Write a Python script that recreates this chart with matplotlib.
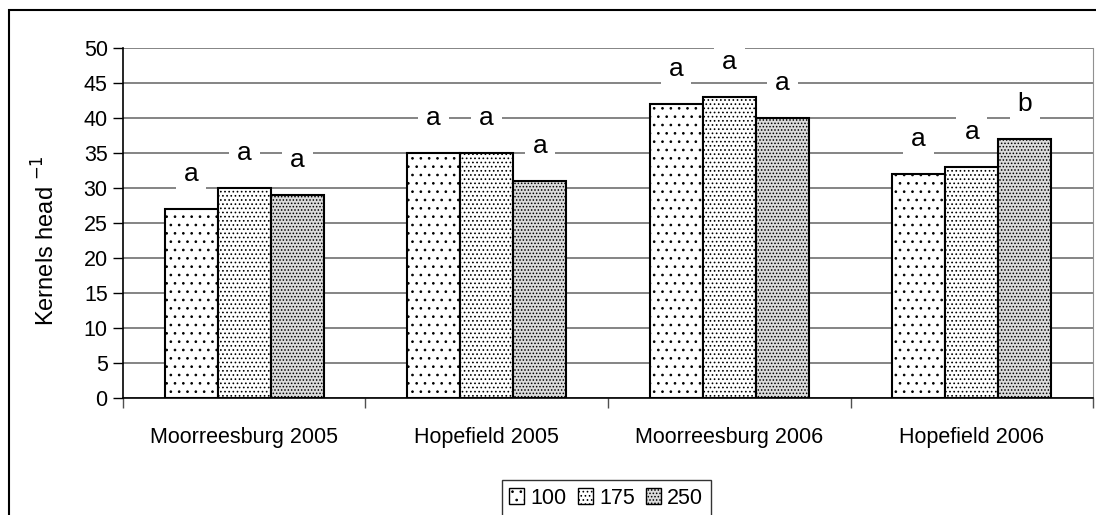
import matplotlib.pyplot as plt
import numpy as np
from matplotlib.patches import Rectangle, Patch

plt.rcParams['font.family'] = ['Liberation Sans', 'DejaVu Sans']
plt.rcParams['hatch.linewidth'] = 0.7

# Данные
sites = ['Moorreesburg 2005', 'Hopefield 2005', 'Moorreesburg 2006', 'Hopefield 2006']
densities = ['100', '175', '250']
kernels_100 = [27, 35, 42, 32]
kernels_175 = [30, 35, 43, 33]
kernels_250 = [29, 31, 40, 37]
letters_100 = ['a', 'a', 'a', 'a']
letters_175 = ['a', 'a', 'a', 'a']
letters_250 = ['a', 'a', 'a', 'b']

series = [kernels_100, kernels_175, kernels_250]
letters = [letters_100, letters_175, letters_250]
hatches = ['..', '....', '.....']
faces = ['white', 'white', '#dcdcdc']

fig = plt.figure(figsize=(10.96, 5.15), dpi=100)
ax = fig.add_axes([0.1122, 0.2272, 0.9973 - 0.1122, 0.9068 - 0.2272])

x = np.arange(len(sites))
w = 0.219
fs = 15.5   # подписи осей
fs_let = 19  # буквы значимости

for i, vals in enumerate(series):
    pos = x + (i - 1) * w
    ax.bar(pos, vals, width=w, facecolor=faces[i], edgecolor='black',
           hatch=hatches[i], linewidth=1.5, zorder=3)
    for px, v, lt in zip(pos, vals, letters[i]):
        ax.text(px, v + 5, lt, ha='center', va='center', fontsize=fs_let, zorder=5,
                bbox=dict(boxstyle='square,pad=0.3', facecolor='white', edgecolor='none'))

ax.set_xlim(-0.5, 3.5)
ax.set_ylim(0, 50)
ax.set_yticks(np.arange(0, 51, 5))
ax.yaxis.grid(True, color='#707070', linewidth=1.2, zorder=0)
ax.set_axisbelow(True)

ax.set_xticks(x)
ax.set_xticklabels(sites, fontsize=fs)
ax.set_xticks(np.arange(-0.5, 3.6, 1), minor=True)
ax.tick_params(axis='x', which='major', length=0, pad=21)
ax.tick_params(axis='x', which='minor', length=7, width=1, color='#505050', direction='out')
ax.tick_params(axis='y', length=7, width=1, direction='out', labelsize=fs, pad=4)

ax.spines['top'].set_visible(False)
ax.spines['right'].set_color('#909090')
ax.spines['left'].set_linewidth(1.2)
ax.spines['bottom'].set_linewidth(1.2)

ax.set_ylabel('Kernels head $^{-1}$', fontsize=17)
ax.yaxis.set_label_coords(-0.065, 0.45)

handles = [Patch(facecolor=faces[i], edgecolor='black', hatch=hatches[i], linewidth=1)
           for i in range(3)]
leg = fig.legend(handles, densities, loc='upper center', bbox_to_anchor=(0.553, 0.068),
                 borderaxespad=0, ncol=3, fontsize=fs, frameon=True, fancybox=False,
                 handlelength=0.7, handleheight=0.7, handletextpad=0.3,
                 columnspacing=0.5, borderpad=0.35)
leg.get_frame().set_edgecolor('black')
leg.get_frame().set_linewidth(1.0)

# рамка вокруг рисунка
fig.patches.append(Rectangle((0.0082, -0.2), 1.2, 0.9806 + 0.2, transform=fig.transFigure,
                             fill=False, edgecolor='black', linewidth=1.5))

fig.savefig('out.png', dpi=100)
